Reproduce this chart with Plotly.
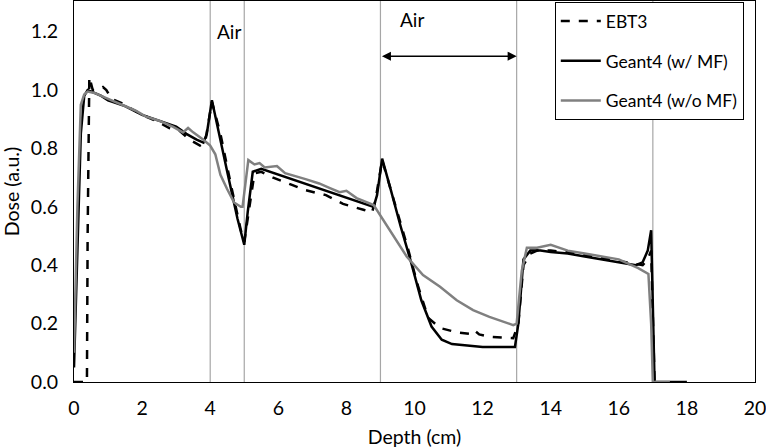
import plotly.graph_objects as go

# ---- data ----
ebt3_x = [0, 0.38, 0.40, 0.45, 0.55, 0.7, 0.85, 0.95, 1.1, 1.4, 1.7, 2.0, 2.4, 2.8, 3.1, 3.4, 3.7, 3.85,
          4.05, 4.3, 4.6, 4.9, 5.0, 5.1, 5.3, 5.5, 5.85, 6.4, 6.8, 7.4, 7.9, 8.5, 8.75, 8.85, 9.05, 9.4,
          9.8, 10.1, 10.4, 10.75, 11.25, 11.6, 11.75, 11.9, 12.2, 12.9, 13.05, 13.2, 13.4, 13.6, 14.0,
          14.5, 15.0, 15.5, 16.0, 16.4, 16.7, 16.85, 16.95, 17.05]
ebt3_y = [0, 0, 0.5, 1.045, 1.0, 1.0, 1.01, 1.0, 0.97, 0.955, 0.935, 0.915, 0.895, 0.87, 0.86, 0.83, 0.81, 0.82,
          0.96, 0.85, 0.68, 0.52, 0.48, 0.56, 0.715, 0.72, 0.70, 0.675, 0.657, 0.64, 0.61, 0.59, 0.58, 0.62,
          0.76, 0.62, 0.46, 0.33, 0.22, 0.185, 0.17, 0.165, 0.178, 0.163, 0.155, 0.15, 0.2, 0.40, 0.44, 0.45,
          0.45, 0.445, 0.435, 0.425, 0.415, 0.405, 0.40, 0.42, 0.45, 0.0]

mf_x = [0, 0.1, 0.2, 0.3, 0.4, 0.6, 0.8, 1.0, 1.5, 2.0, 2.5, 3.0, 3.3, 3.6, 3.8, 3.9, 4.05, 4.2, 4.5,
        4.8, 5.0, 5.1, 5.25, 5.5, 6.0, 6.5, 7.0, 7.5, 8.0, 8.5, 8.8, 8.9, 9.05, 9.3, 9.6, 9.9, 10.2, 10.5,
        10.8, 11.1, 11.5, 12.0, 12.5, 12.95, 13.05, 13.2, 13.4, 13.7, 14.0, 14.5, 15.0, 15.5, 16.0, 16.5,
        16.7, 16.85, 16.95, 17.0, 17.05, 17.5, 18.0]
mf_y = [0.05, 0.45, 0.85, 0.98, 1.0, 0.99, 0.98, 0.965, 0.945, 0.915, 0.895, 0.875, 0.85, 0.83, 0.82, 0.85,
        0.965, 0.88, 0.72, 0.56, 0.47, 0.58, 0.72, 0.73, 0.71, 0.69, 0.67, 0.65, 0.63, 0.61, 0.60, 0.64, 0.765,
        0.66, 0.53, 0.41, 0.28, 0.19, 0.145, 0.13, 0.125, 0.12, 0.12, 0.12, 0.2, 0.42, 0.45, 0.45, 0.445,
        0.44, 0.43, 0.42, 0.41, 0.40, 0.41, 0.45, 0.52, 0.3, 0.0, 0.0, 0.0]

nomf_x = [0, 0.1, 0.2, 0.3, 0.4, 0.6, 0.9, 1.2, 1.5, 1.8, 2.1, 2.5, 2.9, 3.2, 3.35, 3.5, 3.8, 4.0, 4.15,
          4.3, 4.5, 4.7, 4.9, 4.95, 5.12, 5.3, 5.45, 5.6, 5.96, 6.2, 6.8, 7.2, 7.5, 7.8, 8.0, 8.3, 8.8, 9.28,
          9.77, 10.25, 10.75, 11.24, 11.72, 12.2, 12.9, 13.0, 13.15, 13.3, 13.6, 14.0, 14.5, 15.0, 15.5,
          16.0, 16.57, 16.87, 16.95, 17.0, 17.5]
nomf_y = [0.1, 0.6, 0.95, 0.985, 0.995, 0.99, 0.975, 0.96, 0.945, 0.93, 0.91, 0.895, 0.875, 0.855, 0.87,
          0.855, 0.83, 0.81, 0.78, 0.71, 0.66, 0.615, 0.60, 0.60, 0.76, 0.745, 0.75, 0.735, 0.74, 0.715, 0.695,
          0.68, 0.665, 0.65, 0.655, 0.63, 0.606, 0.52, 0.43, 0.366, 0.326, 0.28, 0.246, 0.223, 0.195, 0.2,
          0.38, 0.46, 0.46, 0.47, 0.45, 0.44, 0.43, 0.42, 0.39, 0.37, 0.2, 0.0, 0.0]

boundaries = [4, 5, 9, 13, 17]
x_ticks = [0, 2, 4, 6, 8, 10, 12, 14, 16, 18, 20]
y_ticks = [0.0, 0.2, 0.4, 0.6, 0.8, 1.0, 1.2]

FONT = "Lato"

fig = go.Figure()
fig.add_trace(go.Scatter(x=ebt3_x, y=ebt3_y, mode="lines", name="EBT3", legendgroup="a",
                         line=dict(color="black", width=2.5, dash="dash")))
fig.add_trace(go.Scatter(x=mf_x, y=mf_y, mode="lines", name="Geant4 (w/ MF)", legendgroup="b",
                         line=dict(color="black", width=2.5)))
fig.add_trace(go.Scatter(x=nomf_x, y=nomf_y, mode="lines", name="Geant4 (w/o MF)", legendgroup="c",
                         line=dict(color="#808080", width=2.5)))

for b in boundaries:
    fig.add_shape(type="line", x0=b, x1=b, y0=0, y1=1, xref="x", yref="paper",
                  line=dict(color="#a6a6a6", width=1.2), layer="below")

fig.add_annotation(x=4.55, y=1.2, text="Air", showarrow=False, font=dict(size=19, color="black", family=FONT))
fig.add_annotation(x=9.93, y=1.243, text="Air", showarrow=False, font=dict(size=19, color="black", family=FONT))
fig.add_annotation(x=13, y=1.116, ax=9, ay=1.116, xref="x", yref="y", axref="x", ayref="y",
                   text="", showarrow=True, arrowhead=2, arrowside="end+start", arrowsize=1.2,
                   arrowwidth=1.5, arrowcolor="black")

fig.update_layout(
    width=766, height=448,
    margin=dict(l=74, r=11, t=1, b=66),
    paper_bgcolor="white", plot_bgcolor="white",
    font=dict(family=FONT, size=19.5, color="black"),
    legend=dict(x=0.706, y=0.997, xanchor="left", yanchor="top", bgcolor="white",
                bordercolor="black", borderwidth=1, font=dict(size=17.5, family=FONT),
                traceorder="grouped", tracegroupgap=14, itemwidth=40),
    showlegend=True,
)
fig.update_xaxes(range=[0, 20], tickvals=x_ticks, showgrid=False, zeroline=False, automargin=False,
                 showline=True, linecolor="black", linewidth=1, mirror=True, ticks="",
                 ticklabelstandoff=9, ticklabeloverflow="allow",
                 title=dict(text="Depth (cm)", font=dict(size=19.5, family=FONT), standoff=14))
fig.update_yaxes(range=[0, 1.305], tickvals=y_ticks, tickformat=".1f", showgrid=False, zeroline=False,
                 automargin=False, ticklabeloverflow="allow",
                 showline=True, linecolor="black", linewidth=1, mirror=True, ticks="",
                 ticklabelstandoff=11,
                 title=dict(text="Dose (a.u.)", font=dict(size=19.5, family=FONT), standoff=10))

fig.write_html("out.html", config={"displayModeBar": False},
               post_script="document.body.style.margin='0';document.body.style.padding='0';")
